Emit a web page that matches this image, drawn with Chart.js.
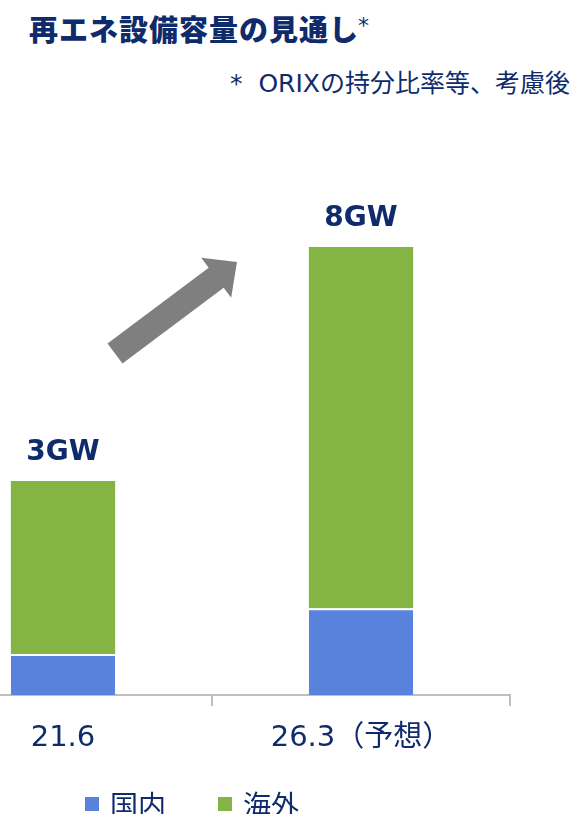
<!DOCTYPE html>
<html lang="ja">
<head>
<meta charset="utf-8">
<script src="https://cdn.jsdelivr.net/npm/chart.js@4.4.1/dist/chart.umd.min.js"></script>
<style>
  html, body { margin: 0; padding: 0; background: #fff; }
  body { width: 573px; height: 814px; position: relative; overflow: hidden;
         font-family: "DejaVu Sans", "Noto Sans CJK JP", sans-serif; color: #0f2b6b; }
  #title { position: absolute; left: 29px; top: 7px; font-size: 29px; font-weight: 900;
           font-family: "Noto Sans CJK JP", sans-serif; letter-spacing: 1px; white-space: nowrap; }
  #title sup { font-size: 22px; font-family: "DejaVu Sans", sans-serif; font-weight: normal; vertical-align: 8px; margin-left: -1px; }
  #note { position: absolute; right: 3px; top: 63px; font-size: 25px; white-space: nowrap; }
  #wrap { position: absolute; left: -86px; top: 0; width: 660px; height: 814px; }
  #legend { position: absolute; left: 85px; top: 784px; display: flex; font-size: 28px;
            font-family: "Noto Sans CJK JP", sans-serif; white-space: nowrap; }
  #legend .item { display: flex; align-items: center; margin-right: 52px; }
  #legend .box { width: 14px; height: 14px; margin-right: 11px; }
</style>
</head>
<body>
<div id="title">再エネ設備容量の見通し<sup>*</sup></div>
<div id="note">*&nbsp; ORIXの持分比率等、考慮後</div>
<div id="wrap"><canvas id="chart"></canvas></div>
<div id="legend"></div>
<script>
const categories = ["21.6", "26.3（予想）"];
const domestic = [0.73, 1.55];   // 国内
const overseas = [3.09, 6.45];   // 海外
const totalLabels = ["3GW", "8GW"];

const navy = "#0f2b6b";
const blue = "#5882dc";
const green = "#84b443";

// total labels over each stacked bar
const totalsPlugin = {
  id: "totals",
  afterDatasetsDraw(chart) {
    const ctx = chart.ctx;
    const meta = chart.getDatasetMeta(chart.data.datasets.length - 1);
    ctx.save();
    ctx.font = "bold 28px 'DejaVu Sans'";
    ctx.fillStyle = navy;
    ctx.textAlign = "center";
    ctx.textBaseline = "alphabetic";
    meta.data.forEach((bar, i) => {
      ctx.fillText(totalLabels[i], bar.x, bar.y - 21);
    });
    ctx.restore();
  }
};

// grey growth arrow between the two bars
const arrowPlugin = {
  id: "arrow",
  afterDatasetsDraw(chart) {
    const x = chart.scales.x, y = chart.scales.y;
    const tail = { x: x.getPixelForValue(0) + 52, y: y.getPixelForValue(6.1) };
    const tip = { x: x.getPixelForValue(1) - 124, y: y.getPixelForValue(7.73) };
    const dx = tip.x - tail.x, dy = tip.y - tail.y;
    const len = Math.hypot(dx, dy);
    const ux = dx / len, uy = dy / len;
    const nx = -uy, ny = ux;
    const sw = 12.5, hw = 25, hl = 26;
    const bx = tip.x - ux * hl, by = tip.y - uy * hl;
    const ctx = chart.ctx;
    ctx.save();
    ctx.fillStyle = "#7f7f7f";
    ctx.beginPath();
    ctx.moveTo(tail.x + nx * sw, tail.y + ny * sw);
    ctx.lineTo(bx + nx * sw, by + ny * sw);
    ctx.lineTo(bx + nx * hw, by + ny * hw);
    ctx.lineTo(tip.x, tip.y);
    ctx.lineTo(bx - nx * hw, by - ny * hw);
    ctx.lineTo(bx - nx * sw, by - ny * sw);
    ctx.lineTo(tail.x - nx * sw, tail.y - ny * sw);
    ctx.closePath();
    ctx.fill();
    ctx.restore();
  }
};

const chart = new Chart(document.getElementById("chart"), {
  type: "bar",
  data: {
    labels: categories,
    datasets: [
      {
        label: "国内",
        data: domestic,
        backgroundColor: blue,
        borderColor: "#ffffff",
        borderWidth: { top: 2, left: 0, right: 0, bottom: 0 },
        borderSkipped: false
      },
      {
        label: "海外",
        data: overseas,
        backgroundColor: green,
        borderWidth: 0
      }
    ]
  },
  options: {
    responsive: true,
    maintainAspectRatio: false,
    animation: false,
    categoryPercentage: 1,
    barPercentage: 0.35,
    layout: { padding: { top: 135, right: 64, bottom: 0, left: 0 } },
    plugins: {
      legend: { display: false },
      tooltip: { enabled: false }
    },
    scales: {
      x: {
        stacked: true,
        afterFit(scale) { scale.height = 119; },
        border: { display: true, color: "#bfbfbf", width: 2 },
        grid: { offset: true, drawOnChartArea: false, drawTicks: true, tickLength: 11, color: "#bfbfbf", lineWidth: 2 },
        ticks: { color: navy, padding: 15, font: { family: "'DejaVu Sans', 'Noto Sans CJK JP'", size: 29 } }
      },
      y: {
        stacked: true,
        display: false,
        min: 0,
        max: 10
      }
    }
  },
  plugins: [totalsPlugin, arrowPlugin]
});

// legend built from the datasets
const legend = document.getElementById("legend");
chart.data.datasets.forEach(ds => {
  const item = document.createElement("div");
  item.className = "item";
  const box = document.createElement("span");
  box.className = "box";
  box.style.background = ds.backgroundColor;
  const text = document.createElement("span");
  text.textContent = ds.label;
  item.appendChild(box);
  item.appendChild(text);
  legend.appendChild(item);
});
</script>
</body>
</html>
